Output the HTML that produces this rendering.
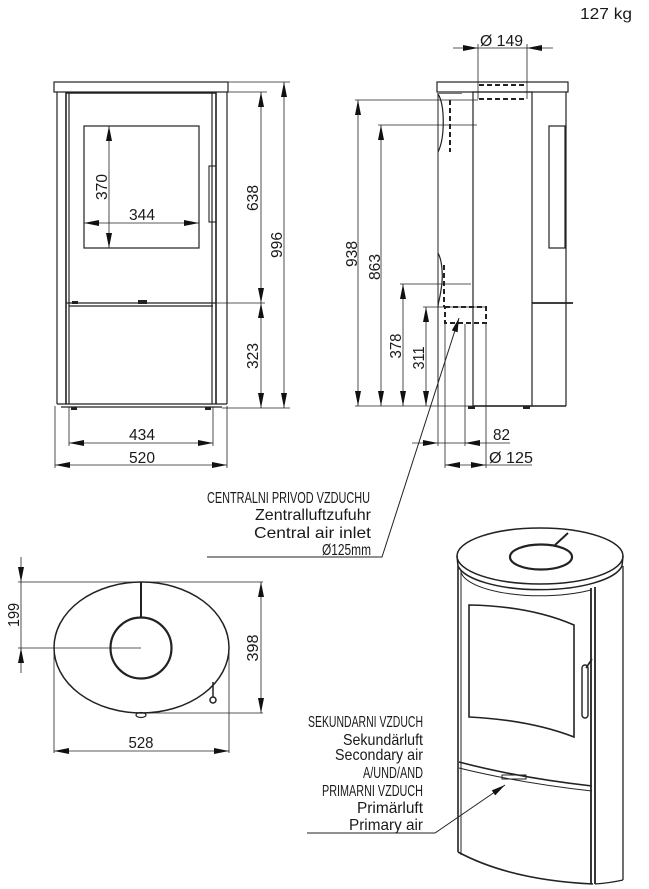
<!DOCTYPE html>
<html><head><meta charset="utf-8"><style>
html,body{margin:0;padding:0;background:#fff;}
svg{display:block;}
text{font-family:"Liberation Sans Narrow","Liberation Sans",sans-serif;fill:#1a1a1a;font-size:16px;}
</style></head><body>
<svg width="649" height="889" viewBox="0 0 649 889" xmlns="http://www.w3.org/2000/svg">
<g fill="none" stroke="#222" stroke-width="1.2">
<rect x="54" y="82" width="174" height="10"/>
<line x1="57" y1="92" x2="57" y2="404"/>
<line x1="227" y1="92" x2="227" y2="404"/>
<line x1="66" y1="92" x2="66" y2="404" stroke-width="1.6"/>
<line x1="216" y1="92" x2="216" y2="404" stroke-width="1.6"/>
<line x1="69" y1="93" x2="69" y2="404"/>
<line x1="212" y1="93" x2="212" y2="404"/>
<line x1="66" y1="93" x2="216" y2="93" stroke-width="1.4"/>
<line x1="66" y1="303" x2="216" y2="303"/>
<line x1="69" y1="306" x2="213" y2="306"/>
<line x1="57" y1="404" x2="227" y2="404"/>
<line x1="61" y1="407" x2="222" y2="407"/>
<rect x="84" y="126" width="115" height="122"/>
<rect x="209" y="166" width="7" height="56" stroke-width="1.1"/>
<rect x="437" y="82" width="131" height="10"/>
<rect x="473" y="92" width="59" height="314"/>
<line x1="566" y1="92" x2="566" y2="406"/>
<rect x="549" y="126" width="16" height="122"/>
<line x1="532" y1="303" x2="573" y2="303" stroke-width="1.8"/>
<line x1="438" y1="92" x2="438" y2="406" stroke-width="1"/>
<path d="M438,94 C445,105 445,138 438,152"/>
<path d="M438,253 C443,262 443,280 441,290 C440,298 438,303 438,307"/>
<line x1="473" y1="406" x2="566" y2="406" stroke-width="1.6"/>
<ellipse cx="141.5" cy="647.5" rx="87.5" ry="65.5" stroke-width="1.5"/>
<circle cx="141" cy="648" r="30.5" stroke-width="2.2"/>
<line x1="141" y1="582" x2="141" y2="617" stroke-width="2"/>
<ellipse cx="141" cy="715" rx="5" ry="2.5"/>
<line x1="213" y1="682" x2="213" y2="697" stroke-width="1.5"/>
<circle cx="213" cy="700" r="3" stroke-width="1.5"/>
<path d="M457,556 A83,28 0 0 1 623,556 A83,28 0 0 1 457,556 Z" stroke-width="1.5"/>
<path d="M457,556 L458,566 A83,28 0 0 0 622,566 L623,556" stroke-width="1.5"/>
<path d="M461,572 A80,26 0 0 0 591,590" stroke-width="1"/>
<ellipse cx="541" cy="557" rx="31" ry="12.5" stroke-width="2.2"/>
<line x1="555" y1="545" x2="568" y2="533" stroke-width="2"/>
<line x1="458" y1="566" x2="458" y2="852" stroke-width="1.6"/>
<line x1="461" y1="570" x2="461" y2="855" stroke-width="1"/>
<line x1="623" y1="566" x2="623" y2="880" stroke-width="1.3"/>
<line x1="591" y1="588" x2="591" y2="884" stroke-width="1.8"/>
<line x1="595" y1="587" x2="595" y2="884" stroke-width="1.8"/>
<path d="M458,852 Q510,880 593,884" stroke-width="1.6"/>
<path d="M595,884 Q610,883 623,880" stroke-width="1.3"/>
<path d="M469,605 Q530,606 574,625 L574,737 Q530,720 469,717 Z" stroke-width="1.6"/>
<rect x="582" y="665" width="6" height="53" rx="3" stroke-width="1.4"/>
<line x1="586" y1="668" x2="592" y2="659" stroke-width="1.6"/>
<path d="M459,762 Q520,778 592,786" stroke-width="1.6"/>
<path d="M459,768 Q520,783 592,791" stroke-width="1"/>
<rect x="502" y="775" width="24" height="4" stroke-width="1"/>
</g>
<g fill="#222">
<rect x="71" y="407" width="6" height="3"/>
<rect x="205" y="407" width="6" height="3"/>
<rect x="72" y="301" width="6" height="3"/>
<rect x="138" y="300" width="9" height="4"/>
<rect x="468" y="406" width="7" height="3"/>
<rect x="523" y="406" width="7" height="3"/>
<rect x="437" y="92" width="25" height="2" fill="#777"/>
</g>
<g fill="none" stroke="#222" stroke-width="2" stroke-dasharray="5,3">
<line x1="479" y1="85" x2="527" y2="85"/>
<line x1="479" y1="99" x2="527" y2="99"/>
<line x1="450" y1="100" x2="450" y2="152"/>
<line x1="444" y1="265" x2="444" y2="307"/>
<rect x="445" y="307" width="41" height="16"/>
</g>
<g fill="none" stroke="#222" stroke-width="0.8">
<line x1="109" y1="126" x2="109" y2="248"/>
<line x1="84" y1="223" x2="199" y2="223"/>
<line x1="261" y1="92" x2="261" y2="408"/>
<line x1="284" y1="82" x2="284" y2="408"/>
<line x1="228" y1="82" x2="290" y2="82"/>
<line x1="216" y1="92" x2="267" y2="92"/>
<line x1="216" y1="303" x2="265" y2="303"/>
<line x1="222" y1="408" x2="290" y2="408"/>
<line x1="69" y1="443" x2="213" y2="443"/>
<line x1="55" y1="465" x2="227" y2="465"/>
<line x1="55" y1="406" x2="55" y2="468"/>
<line x1="227" y1="406" x2="227" y2="468"/>
<line x1="69" y1="407" x2="69" y2="446"/>
<line x1="213" y1="407" x2="213" y2="446"/>
<line x1="453" y1="48" x2="553" y2="48"/>
<line x1="478" y1="44" x2="478" y2="99"/>
<line x1="527" y1="44" x2="527" y2="99"/>
<line x1="358" y1="100" x2="358" y2="406"/>
<line x1="381" y1="125" x2="381" y2="406"/>
<line x1="403" y1="284" x2="403" y2="406"/>
<line x1="426" y1="307" x2="426" y2="406"/>
<line x1="355" y1="100" x2="478" y2="100"/>
<line x1="378" y1="125" x2="477" y2="125"/>
<line x1="400" y1="284" x2="471" y2="284"/>
<line x1="423" y1="307" x2="487" y2="307"/>
<line x1="355" y1="406" x2="473" y2="406"/>
<line x1="438" y1="307" x2="438" y2="446"/>
<line x1="465" y1="324" x2="465" y2="446"/>
<line x1="445" y1="323" x2="445" y2="468"/>
<line x1="486" y1="323" x2="486" y2="468"/>
<line x1="412" y1="443" x2="510" y2="443"/>
<line x1="445" y1="465" x2="532" y2="465"/>
<line x1="21" y1="557" x2="21" y2="673"/>
<line x1="18" y1="582" x2="263" y2="582"/>
<line x1="18" y1="648" x2="141" y2="648"/>
<line x1="141" y1="713" x2="263" y2="713"/>
<line x1="261" y1="582" x2="261" y2="713"/>
<line x1="54" y1="648" x2="54" y2="753"/>
<line x1="229" y1="648" x2="229" y2="753"/>
<line x1="54" y1="751" x2="229" y2="751"/>
<polyline points="207,557 382,557 459,318" stroke-width="1"/>
<polyline points="307,833 435,833 505,785" stroke-width="1"/>
</g>
<g fill="#111" stroke="none">
<polygon points="109,126 106,141 112,141"/><polygon points="109,248 106,233 112,233"/>
<polygon points="84,223 99,220 99,226"/><polygon points="199,223 184,220 184,226"/>
<polygon points="261,92 258,107 264,107"/><polygon points="261,303 258,288 264,288"/>
<polygon points="261,303 258,318 264,318"/><polygon points="261,408 258,393 264,393"/>
<polygon points="284,82 281,97 287,97"/><polygon points="284,408 281,393 287,393"/>
<polygon points="69,443 84,440 84,446"/><polygon points="213,443 198,440 198,446"/>
<polygon points="55,465 70,462 70,468"/><polygon points="227,465 212,462 212,468"/>
<polygon points="478,48 463,45 463,51"/><polygon points="527,48 542,45 542,51"/>
<polygon points="358,100 355,115 361,115"/><polygon points="358,406 355,391 361,391"/>
<polygon points="381,125 378,140 384,140"/><polygon points="381,406 378,391 384,391"/>
<polygon points="403,284 400,299 406,299"/><polygon points="403,406 400,391 406,391"/>
<polygon points="426,307 423,322 429,322"/><polygon points="426,406 423,391 429,391"/>
<polygon points="438,443 423,440 423,446"/><polygon points="465,443 480,440 480,446"/>
<polygon points="445,465 460,462 460,468"/><polygon points="486,465 471,462 471,468"/>
<polygon points="21,582 18,567 24,567"/><polygon points="21,648 18,663 24,663"/>
<polygon points="261,582 258,597 264,597"/><polygon points="261,713 258,698 264,698"/>
<polygon points="54,751 69,748 69,754"/><polygon points="229,751 214,748 214,754"/>
<polygon points="459,318 457.6,332.2 451.8,330.4"/>
<polygon points="505,785 495.2,795.4 491.8,790.4"/>
</g>
<text x="580" y="19" textLength="52" lengthAdjust="spacingAndGlyphs">127 kg</text>
<text x="480" y="46" textLength="43" lengthAdjust="spacingAndGlyphs">Ø 149</text>
<text transform="translate(107,187) rotate(-90)" text-anchor="middle" textLength="26" lengthAdjust="spacingAndGlyphs">370</text>
<text x="142" y="220" text-anchor="middle" textLength="26" lengthAdjust="spacingAndGlyphs">344</text>
<text transform="translate(258,198) rotate(-90)" text-anchor="middle" textLength="26" lengthAdjust="spacingAndGlyphs">638</text>
<text transform="translate(282,245) rotate(-90)" text-anchor="middle" textLength="26" lengthAdjust="spacingAndGlyphs">996</text>
<text transform="translate(258,356) rotate(-90)" text-anchor="middle" textLength="26" lengthAdjust="spacingAndGlyphs">323</text>
<text x="142" y="440" text-anchor="middle" textLength="26" lengthAdjust="spacingAndGlyphs">434</text>
<text x="142" y="463" text-anchor="middle" textLength="26" lengthAdjust="spacingAndGlyphs">520</text>
<text transform="translate(357,254) rotate(-90)" text-anchor="middle" textLength="26" lengthAdjust="spacingAndGlyphs">938</text>
<text transform="translate(380,267) rotate(-90)" text-anchor="middle" textLength="26" lengthAdjust="spacingAndGlyphs">863</text>
<text transform="translate(401,346) rotate(-90)" text-anchor="middle" textLength="25" lengthAdjust="spacingAndGlyphs">378</text>
<text transform="translate(424,358) rotate(-90)" text-anchor="middle" textLength="23" lengthAdjust="spacingAndGlyphs">311</text>
<text x="493" y="440" textLength="17" lengthAdjust="spacingAndGlyphs">82</text>
<text x="489" y="463" textLength="44" lengthAdjust="spacingAndGlyphs">Ø 125</text>
<text transform="translate(19,615) rotate(-90)" text-anchor="middle" textLength="24" lengthAdjust="spacingAndGlyphs">199</text>
<text transform="translate(258,648) rotate(-90)" text-anchor="middle" textLength="27" lengthAdjust="spacingAndGlyphs">398</text>
<text x="141" y="748" text-anchor="middle" textLength="25" lengthAdjust="spacingAndGlyphs">528</text>
<text x="207" y="503" textLength="163" lengthAdjust="spacingAndGlyphs">CENTRALNI PRIVOD VZDUCHU</text>
<text x="255" y="520" textLength="116" lengthAdjust="spacingAndGlyphs">Zentralluftzufuhr</text>
<text x="254" y="538" textLength="117" lengthAdjust="spacingAndGlyphs">Central air inlet</text>
<text x="322" y="555" textLength="49" lengthAdjust="spacingAndGlyphs">Ø125mm</text>
<text x="308" y="727" textLength="115" lengthAdjust="spacingAndGlyphs">SEKUNDARNI VZDUCH</text>
<text x="343" y="745" textLength="80" lengthAdjust="spacingAndGlyphs">Sekundärluft</text>
<text x="335" y="760" textLength="88" lengthAdjust="spacingAndGlyphs">Secondary air</text>
<text x="363" y="778" textLength="60" lengthAdjust="spacingAndGlyphs">A/UND/AND</text>
<text x="322" y="796" textLength="101" lengthAdjust="spacingAndGlyphs">PRIMARNI VZDUCH</text>
<text x="357" y="813" textLength="66" lengthAdjust="spacingAndGlyphs">Primärluft</text>
<text x="349" y="830" textLength="74" lengthAdjust="spacingAndGlyphs">Primary air</text>
</svg>
</body></html>
